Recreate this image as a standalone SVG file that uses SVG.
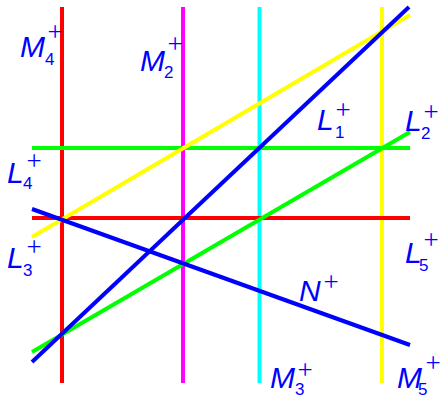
<svg xmlns="http://www.w3.org/2000/svg" width="440" height="398" viewBox="0 0 440 398">
<style>
.ln{stroke-width:4;fill:none;stroke-linecap:butt}
.m{font-family:"Liberation Sans",Arial,sans-serif;font-style:italic;font-size:30px;fill:#0000ff}
.s{font-family:"Liberation Sans",Arial,sans-serif;font-size:17px;fill:#0000ff}
.p{font-family:"Liberation Serif","Times New Roman",serif;font-size:27px;fill:#0000ff;text-anchor:middle}
</style>
<rect width="440" height="398" fill="#ffffff"/>
<g id="lines">
<line id="M4" class="ln" x1="62" y1="7" x2="62" y2="383" stroke="#ff0000"/>
<line id="M2" class="ln" x1="183" y1="7" x2="183" y2="383" stroke="#ff00ff"/>
<line id="M3" class="ln" x1="259.5" y1="7" x2="259.5" y2="383" stroke="#00ffff"/>
<line id="M5" class="ln" x1="382" y1="7" x2="382" y2="383" stroke="#ffff00"/>
<line id="L1" class="ln" x1="32" y1="148" x2="410" y2="148" stroke="#00ff00"/>
<line id="L5" class="ln" x1="32" y1="218" x2="410" y2="218" stroke="#ff0000"/>
<line id="L4" class="ln" x1="32" y1="237" x2="410" y2="15" stroke="#ffff00"/>
<line id="L2" class="ln" x1="32" y1="352" x2="410" y2="132" stroke="#00ff00"/>
<line id="L3" class="ln" x1="32" y1="362" x2="409" y2="7" stroke="#0000ff"/>
<line id="N" class="ln" x1="32" y1="209" x2="410" y2="345" stroke="#0000ff"/>
</g>
<g id="label-M4"><text class="m" x="20" y="57">M</text><text class="s" x="45" y="65">4</text><text class="p" x="55" y="40.5">+</text></g>
<g id="label-M2"><text class="m" x="140" y="71">M</text><text class="s" x="164" y="78">2</text><text class="p" x="175" y="52.5">+</text></g>
<g id="label-M3"><text class="m" x="270" y="388">M</text><text class="s" x="295" y="395">3</text><text class="p" x="305" y="378.5">+</text></g>
<g id="label-M5"><text class="m" x="397" y="388">M</text><text class="s" x="418" y="395">5</text><text class="p" x="433" y="371.5">+</text></g>
<g id="label-L1"><text class="m" x="317" y="129.5">L</text><text class="s" x="335" y="138">1</text><text class="p" x="343" y="119">+</text></g>
<g id="label-L2"><text class="m" x="405" y="130.5">L</text><text class="s" x="421" y="139">2</text><text class="p" x="431" y="120.5">+</text></g>
<g id="label-L4"><text class="m" x="7" y="182.5">L</text><text class="s" x="23" y="189">4</text><text class="p" x="34" y="169.5">+</text></g>
<g id="label-L3"><text class="m" x="7" y="268">L</text><text class="s" x="23" y="276">3</text><text class="p" x="34" y="255.5">+</text></g>
<g id="label-L5"><text class="m" x="405" y="263">L</text><text class="s" x="419" y="271">5</text><text class="p" x="431" y="248.5">+</text></g>
<g id="label-N"><text class="m" x="299" y="301">N</text><text class="p" x="331" y="290.5">+</text></g>
</svg>
